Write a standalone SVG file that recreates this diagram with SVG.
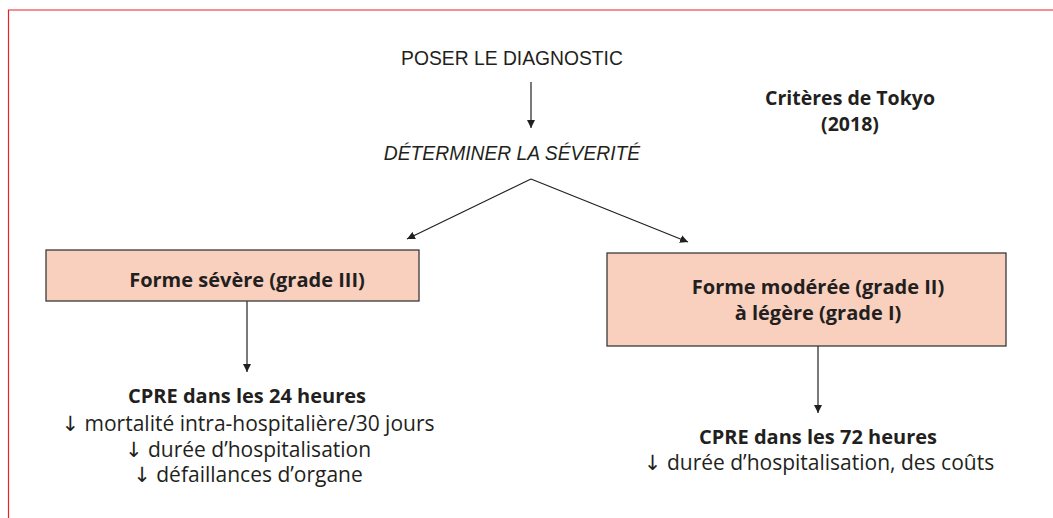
<svg xmlns="http://www.w3.org/2000/svg" width="1053" height="518" viewBox="0 0 1053 518">
<style>
text{font-family:"Open Sans","Noto Sans","Liberation Sans",sans-serif;fill:#231f20;text-anchor:middle}
.b{font-weight:bold}
.cap{font-family:"Liberation Sans",Arial,sans-serif;font-size:19.3px}
.i{font-style:italic}
.r{font-size:21px}
.ar{font-family:"DejaVu Sans",sans-serif;font-size:21px;fill:#231f20}
.box{fill:#f9d0be;stroke:#3a3a3a;stroke-width:1.3}
.ln{stroke:#231f20;stroke-width:1.2;fill:none}
</style>
<defs>
<marker id="ah" viewBox="0 0 10 10" refX="10" refY="5" markerWidth="8" markerHeight="8" markerUnits="userSpaceOnUse" orient="auto">
<path d="M0,0 L10,5 L0,10 Z" fill="#231f20"/>
</marker>
</defs>
<rect width="1053" height="518" fill="#fff"/>
<path d="M8.5,518 V10 H1053" fill="none" stroke="#e8202a" stroke-width="1.2"/>
<g id="connectors">
<line class="ln" x1="531" y1="82" x2="531" y2="128" marker-end="url(#ah)"/>
<line class="ln" x1="531" y1="179" x2="407" y2="239" marker-end="url(#ah)"/>
<line class="ln" x1="531" y1="179" x2="688" y2="242" marker-end="url(#ah)"/>
<line class="ln" x1="247" y1="301" x2="247" y2="372" marker-end="url(#ah)"/>
<line class="ln" x1="818" y1="346" x2="818" y2="413" marker-end="url(#ah)"/>
</g>
<g id="diagnostic">
<text class="cap" x="512" y="65">POSER LE DIAGNOSTIC</text>
</g>
<g id="severite">
<text class="cap i" x="512" y="160">DÉTERMINER LA SÉVERITÉ</text>
</g>
<g id="tokyo">
<text class="b" x="850" y="105" font-size="19.5">Critères de Tokyo</text>
<text class="b" x="850" y="131" font-size="19.5">(2018)</text>
</g>
<g id="severe">
<rect class="box" x="46" y="250" width="373" height="51"/>
<text class="b" x="247" y="287" font-size="20">Forme sévère (grade III)</text>
</g>
<g id="moderee">
<rect class="box" x="607" y="253" width="399" height="93"/>
<text class="b" x="818" y="294" font-size="20">Forme modérée (grade II)</text>
<text class="b" x="818" y="320" font-size="20">à légère (grade I)</text>
</g>
<g id="cpre24">
<text class="b" x="247" y="403" font-size="20">CPRE dans les 24 heures</text>
<text class="r" x="248" y="431"><tspan class="ar">↓</tspan> mortalité intra-hospitalière/30 jours</text>
<text class="r" x="248" y="457"><tspan class="ar">↓</tspan> durée d’hospitalisation</text>
<text class="r" x="248" y="482"><tspan class="ar">↓</tspan> défaillances d’organe</text>
</g>
<g id="cpre72">
<text class="b" x="818" y="444" font-size="20">CPRE dans les 72 heures</text>
<text class="r" x="819" y="470"><tspan class="ar">↓</tspan> durée d’hospitalisation, des coûts</text>
</g>
</svg>
